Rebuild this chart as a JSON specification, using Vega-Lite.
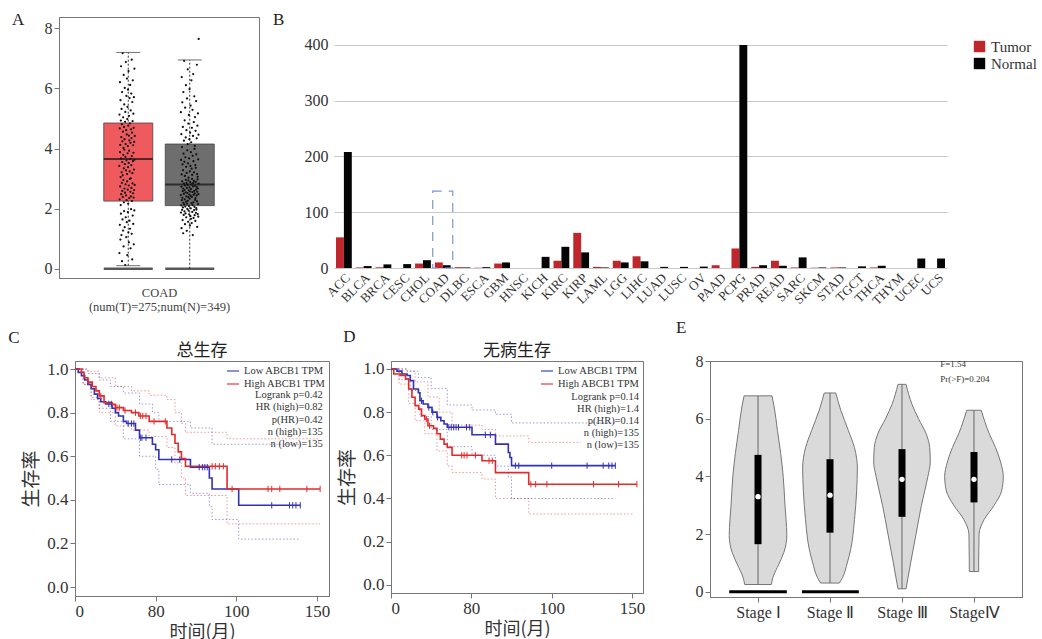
{
"$schema": "https://vega.github.io/schema/vega-lite/v6.json",
"padding": {"left": 8, "top": 10, "right": 0, "bottom": 0},
"background": "white",
"config": {
 "font": "Liberation Serif",
 "view": {"stroke": "#777"},
 "axis": {"labelFont": "Liberation Serif", "titleFont": "Liberation Serif", "titleFontWeight": "normal", "labelColor": "#333", "titleColor": "#333", "domainColor": "#777", "tickColor": "#777", "grid": false, "labelFontSize": 15},
 "legend": {"labelFont": "Liberation Serif", "labelColor": "#333"},
 "title": {"font": "Liberation Serif", "fontWeight": "normal", "color": "#222"},
 "text": {"font": "Liberation Serif"}
},
"datasets": {
 "boxA": [
  {"g": "Tumor", "lo": 0.1, "q1": 2.25, "med": 3.65, "q3": 4.85, "hi": 7.2},
  {"g": "Normal", "lo": 0, "q1": 2.1, "med": 2.8, "q3": 4.15, "hi": 6.95}
 ],
 "capsA": [
  {"g": "Tumor", "v": 7.2}, {"g": "Tumor", "v": 0.1}, {"g": "Normal", "v": 6.95}
 ],
 "ptsA": [
  {"g":"Tumor","v":3.42},{"g":"Tumor","v":0.52},{"g":"Tumor","v":5.13},{"g":"Tumor","v":2.31},{"g":"Tumor","v":4.67},{"g":"Tumor","v":1.46},{"g":"Tumor","v":6.21},{"g":"Tumor","v":3.88},{"g":"Tumor","v":2.74},{"g":"Tumor","v":4.12},
  {"g":"Tumor","v":0.97},{"g":"Tumor","v":5.61},{"g":"Tumor","v":3.05},{"g":"Tumor","v":2.12},{"g":"Tumor","v":4.93},{"g":"Tumor","v":1.83},{"g":"Tumor","v":6.74},{"g":"Tumor","v":3.67},{"g":"Tumor","v":2.48},{"g":"Tumor","v":4.38},
  {"g":"Tumor","v":1.12},{"g":"Tumor","v":5.32},{"g":"Tumor","v":3.21},{"g":"Tumor","v":2.86},{"g":"Tumor","v":4.81},{"g":"Tumor","v":0.25},{"g":"Tumor","v":5.88},{"g":"Tumor","v":3.55},{"g":"Tumor","v":2.59},{"g":"Tumor","v":4.24},
  {"g":"Tumor","v":1.64},{"g":"Tumor","v":7.18},{"g":"Tumor","v":3.11},{"g":"Tumor","v":2.39},{"g":"Tumor","v":4.56},{"g":"Tumor","v":1.27},{"g":"Tumor","v":5.04},{"g":"Tumor","v":3.79},{"g":"Tumor","v":2.95},{"g":"Tumor","v":4.02},
  {"g":"Tumor","v":0.74},{"g":"Tumor","v":6.45},{"g":"Tumor","v":3.34},{"g":"Tumor","v":2.21},{"g":"Tumor","v":4.72},{"g":"Tumor","v":1.92},{"g":"Tumor","v":5.47},{"g":"Tumor","v":3.96},{"g":"Tumor","v":2.67},{"g":"Tumor","v":4.31},
  {"g":"Tumor","v":1.38},{"g":"Tumor","v":6.02},{"g":"Tumor","v":3.48},{"g":"Tumor","v":2.53},{"g":"Tumor","v":4.89},{"g":"Tumor","v":0.12},{"g":"Tumor","v":5.22},{"g":"Tumor","v":3.72},{"g":"Tumor","v":2.81},{"g":"Tumor","v":4.15},
  {"g":"Tumor","v":1.71},{"g":"Tumor","v":6.88},{"g":"Tumor","v":3.27},{"g":"Tumor","v":2.44},{"g":"Tumor","v":4.61},{"g":"Tumor","v":1.05},{"g":"Tumor","v":5.75},{"g":"Tumor","v":3.61},{"g":"Tumor","v":2.28},{"g":"Tumor","v":4.47},
  {"g":"Tumor","v":1.55},{"g":"Tumor","v":6.33},{"g":"Tumor","v":3.15},{"g":"Tumor","v":2.91},{"g":"Tumor","v":4.98},{"g":"Tumor","v":0.45},{"g":"Tumor","v":5.39},{"g":"Tumor","v":3.84},{"g":"Tumor","v":2.63},{"g":"Tumor","v":4.08},
  {"g":"Tumor","v":1.88},{"g":"Tumor","v":5.96},{"g":"Tumor","v":3.38},{"g":"Tumor","v":2.17},{"g":"Tumor","v":4.76},{"g":"Tumor","v":1.21},{"g":"Tumor","v":6.58},{"g":"Tumor","v":3.52},{"g":"Tumor","v":2.77},{"g":"Tumor","v":4.43},
  {"g":"Tumor","v":0.88},{"g":"Tumor","v":5.09},{"g":"Tumor","v":3.93},{"g":"Tumor","v":2.35},{"g":"Tumor","v":4.27},{"g":"Tumor","v":1.6},{"g":"Tumor","v":5.68},{"g":"Tumor","v":3.24},{"g":"Tumor","v":2.99},{"g":"Tumor","v":4.84},
  {"g":"Tumor","v":1.33},{"g":"Tumor","v":6.12},{"g":"Tumor","v":3.66},{"g":"Tumor","v":2.56},{"g":"Tumor","v":4.19},{"g":"Tumor","v":0.68},{"g":"Tumor","v":5.27},{"g":"Tumor","v":3.01},{"g":"Tumor","v":2.41},{"g":"Tumor","v":4.64},
  {"g":"Tumor","v":1.98},{"g":"Tumor","v":5.83},{"g":"Tumor","v":3.45},{"g":"Tumor","v":2.69},{"g":"Tumor","v":4.35},{"g":"Tumor","v":1.16},{"g":"Tumor","v":6.96},{"g":"Tumor","v":3.75},{"g":"Tumor","v":2.25},{"g":"Tumor","v":4.53},
  {"g":"Tumor","v":0.31},{"g":"Tumor","v":5.55},{"g":"Tumor","v":3.18},{"g":"Tumor","v":2.84},{"g":"Tumor","v":4.91},{"g":"Tumor","v":1.77},{"g":"Tumor","v":6.27},{"g":"Tumor","v":3.58},{"g":"Tumor","v":2.51},{"g":"Tumor","v":4.11},
  {"g":"Tumor","v":1.49},{"g":"Tumor","v":5.16},{"g":"Tumor","v":3.86},{"g":"Tumor","v":2.37},{"g":"Tumor","v":4.69},{"g":"Tumor","v":0.81},{"g":"Tumor","v":5.71},{"g":"Tumor","v":3.3},{"g":"Tumor","v":2.62},{"g":"Tumor","v":4.22},
  {"g":"Tumor","v":1.94},{"g":"Tumor","v":6.66},{"g":"Tumor","v":3.63},{"g":"Tumor","v":2.79},{"g":"Tumor","v":4.42},
  {"g":"Normal","v":2.45},{"g":"Normal","v":5.21},{"g":"Normal","v":1.87},{"g":"Normal","v":3.62},{"g":"Normal","v":2.11},{"g":"Normal","v":4.48},{"g":"Normal","v":2.73},{"g":"Normal","v":1.35},{"g":"Normal","v":3.14},{"g":"Normal","v":6.38},
  {"g":"Normal","v":2.28},{"g":"Normal","v":4.05},{"g":"Normal","v":1.96},{"g":"Normal","v":2.91},{"g":"Normal","v":5.54},{"g":"Normal","v":2.36},{"g":"Normal","v":3.47},{"g":"Normal","v":1.62},{"g":"Normal","v":2.58},{"g":"Normal","v":4.72},
  {"g":"Normal","v":2.04},{"g":"Normal","v":3.28},{"g":"Normal","v":1.18},{"g":"Normal","v":2.67},{"g":"Normal","v":5.88},{"g":"Normal","v":2.19},{"g":"Normal","v":3.83},{"g":"Normal","v":1.79},{"g":"Normal","v":2.49},{"g":"Normal","v":4.26},
  {"g":"Normal","v":2.83},{"g":"Normal","v":6.92},{"g":"Normal","v":2.14},{"g":"Normal","v":3.56},{"g":"Normal","v":1.91},{"g":"Normal","v":2.62},{"g":"Normal","v":4.94},{"g":"Normal","v":2.31},{"g":"Normal","v":3.09},{"g":"Normal","v":1.48},
  {"g":"Normal","v":2.77},{"g":"Normal","v":5.36},{"g":"Normal","v":2.07},{"g":"Normal","v":3.71},{"g":"Normal","v":1.84},{"g":"Normal","v":2.54},{"g":"Normal","v":4.37},{"g":"Normal","v":2.96},{"g":"Normal","v":6.11},{"g":"Normal","v":2.23},
  {"g":"Normal","v":3.39},{"g":"Normal","v":1.71},{"g":"Normal","v":2.41},{"g":"Normal","v":4.61},{"g":"Normal","v":2.86},{"g":"Normal","v":3.19},{"g":"Normal","v":1.26},{"g":"Normal","v":2.69},{"g":"Normal","v":5.67},{"g":"Normal","v":2.16},
  {"g":"Normal","v":3.94},{"g":"Normal","v":1.99},{"g":"Normal","v":2.52},{"g":"Normal","v":4.15},{"g":"Normal","v":2.79},{"g":"Normal","v":6.64},{"g":"Normal","v":2.26},{"g":"Normal","v":3.51},{"g":"Normal","v":1.56},{"g":"Normal","v":2.38},
  {"g":"Normal","v":4.83},{"g":"Normal","v":2.94},{"g":"Normal","v":3.03},{"g":"Normal","v":1.93},{"g":"Normal","v":2.61},{"g":"Normal","v":5.12},{"g":"Normal","v":2.09},{"g":"Normal","v":3.67},{"g":"Normal","v":1.81},{"g":"Normal","v":2.47},
  {"g":"Normal","v":4.31},{"g":"Normal","v":2.71},{"g":"Normal","v":5.98},{"g":"Normal","v":2.33},{"g":"Normal","v":3.24},{"g":"Normal","v":1.44},{"g":"Normal","v":2.57},{"g":"Normal","v":4.53},{"g":"Normal","v":2.88},{"g":"Normal","v":3.42},
  {"g":"Normal","v":1.75},{"g":"Normal","v":2.43},{"g":"Normal","v":5.43},{"g":"Normal","v":2.01},{"g":"Normal","v":3.88},{"g":"Normal","v":1.66},{"g":"Normal","v":2.65},{"g":"Normal","v":4.21},{"g":"Normal","v":2.81},{"g":"Normal","v":6.27},
  {"g":"Normal","v":2.18},{"g":"Normal","v":3.33},{"g":"Normal","v":1.52},{"g":"Normal","v":2.39},{"g":"Normal","v":4.69},{"g":"Normal","v":2.99},{"g":"Normal","v":3.12},{"g":"Normal","v":1.89},{"g":"Normal","v":2.55},{"g":"Normal","v":5.29},
  {"g":"Normal","v":2.12},{"g":"Normal","v":3.76},{"g":"Normal","v":1.12},{"g":"Normal","v":2.74},{"g":"Normal","v":4.42},{"g":"Normal","v":2.85},{"g":"Normal","v":6.48},{"g":"Normal","v":2.21},{"g":"Normal","v":3.58},{"g":"Normal","v":1.69},
  {"g":"Normal","v":2.46},{"g":"Normal","v":4.88},{"g":"Normal","v":2.92},{"g":"Normal","v":3.21},{"g":"Normal","v":1.95},{"g":"Normal","v":2.59},{"g":"Normal","v":5.74},{"g":"Normal","v":2.06},{"g":"Normal","v":3.99},{"g":"Normal","v":1.78},
  {"g":"Normal","v":2.51},{"g":"Normal","v":4.09},{"g":"Normal","v":2.76},{"g":"Normal","v":5.05},{"g":"Normal","v":2.29},{"g":"Normal","v":3.45},{"g":"Normal","v":1.59},{"g":"Normal","v":2.35},{"g":"Normal","v":4.59},{"g":"Normal","v":2.89},
  {"g":"Normal","v":3.36},{"g":"Normal","v":1.86},{"g":"Normal","v":2.63},{"g":"Normal","v":5.58},{"g":"Normal","v":2.02},{"g":"Normal","v":3.81},{"g":"Normal","v":1.97},{"g":"Normal","v":2.44},{"g":"Normal","v":4.34},{"g":"Normal","v":2.72},
  {"g":"Normal","v":6.79},{"g":"Normal","v":2.24},{"g":"Normal","v":3.15},{"g":"Normal","v":1.39},{"g":"Normal","v":2.56},{"g":"Normal","v":4.76},{"g":"Normal","v":2.97},{"g":"Normal","v":3.06},{"g":"Normal","v":1.82},{"g":"Normal","v":2.67},
  {"g":"Normal","v":5.17},{"g":"Normal","v":2.15},{"g":"Normal","v":3.64},{"g":"Normal","v":1.73},{"g":"Normal","v":2.48},{"g":"Normal","v":4.46},{"g":"Normal","v":2.83},{"g":"Normal","v":7.65}
 ],
 "bars": [
  {"c":"ACC","type":"Tumor","v":55},{"c":"ACC","type":"Normal","v":208},
  {"c":"BLCA","type":"Tumor","v":1},{"c":"BLCA","type":"Normal","v":3.5},
  {"c":"BRCA","type":"Tumor","v":1.5},{"c":"BRCA","type":"Normal","v":6.5},
  {"c":"CESC","type":"Tumor","v":0},{"c":"CESC","type":"Normal","v":7},
  {"c":"CHOL","type":"Tumor","v":8},{"c":"CHOL","type":"Normal","v":14},
  {"c":"COAD","type":"Tumor","v":10},{"c":"COAD","type":"Normal","v":5},
  {"c":"DLBC","type":"Tumor","v":1.5},{"c":"DLBC","type":"Normal","v":1},
  {"c":"ESCA","type":"Tumor","v":0.5},{"c":"ESCA","type":"Normal","v":1.5},
  {"c":"GBM","type":"Tumor","v":8},{"c":"GBM","type":"Normal","v":10},
  {"c":"HNSC","type":"Tumor","v":0},{"c":"HNSC","type":"Normal","v":0},
  {"c":"KICH","type":"Tumor","v":0},{"c":"KICH","type":"Normal","v":20},
  {"c":"KIRC","type":"Tumor","v":13},{"c":"KIRC","type":"Normal","v":38},
  {"c":"KIRP","type":"Tumor","v":63},{"c":"KIRP","type":"Normal","v":28},
  {"c":"LAML","type":"Tumor","v":2},{"c":"LAML","type":"Normal","v":1},
  {"c":"LGG","type":"Tumor","v":13},{"c":"LGG","type":"Normal","v":10},
  {"c":"LIHC","type":"Tumor","v":21},{"c":"LIHC","type":"Normal","v":12},
  {"c":"LUAD","type":"Tumor","v":0},{"c":"LUAD","type":"Normal","v":2},
  {"c":"LUSC","type":"Tumor","v":0},{"c":"LUSC","type":"Normal","v":2},
  {"c":"OV","type":"Tumor","v":0},{"c":"OV","type":"Normal","v":2.5},
  {"c":"PAAD","type":"Tumor","v":5},{"c":"PAAD","type":"Normal","v":0},
  {"c":"PCPG","type":"Tumor","v":35},{"c":"PCPG","type":"Normal","v":400},
  {"c":"PRAD","type":"Tumor","v":2},{"c":"PRAD","type":"Normal","v":5},
  {"c":"READ","type":"Tumor","v":13},{"c":"READ","type":"Normal","v":4},
  {"c":"SARC","type":"Tumor","v":1},{"c":"SARC","type":"Normal","v":19},
  {"c":"SKCM","type":"Tumor","v":0.5},{"c":"SKCM","type":"Normal","v":1},
  {"c":"STAD","type":"Tumor","v":1},{"c":"STAD","type":"Normal","v":1},
  {"c":"TGCT","type":"Tumor","v":0},{"c":"TGCT","type":"Normal","v":3},
  {"c":"THCA","type":"Tumor","v":1},{"c":"THCA","type":"Normal","v":4},
  {"c":"THYM","type":"Tumor","v":0},{"c":"THYM","type":"Normal","v":0},
  {"c":"UCEC","type":"Tumor","v":0},{"c":"UCEC","type":"Normal","v":17},
  {"c":"UCS","type":"Tumor","v":0},{"c":"UCS","type":"Normal","v":17}
 ],
 "hiB": [{"c": "COAD", "lo": 0, "hi": 138}],
 "km": [
  {"p":"C","g":"L","k":"e","t":0,"s":1},{"p":"C","g":"L","k":"e","t":2,"s":0.985},{"p":"C","g":"L","k":"e","t":4,"s":0.97},{"p":"C","g":"L","k":"e","t":6,"s":0.95},{"p":"C","g":"L","k":"e","t":8,"s":0.93},{"p":"C","g":"L","k":"e","t":10,"s":0.91},{"p":"C","g":"L","k":"e","t":12,"s":0.885},{"p":"C","g":"L","k":"e","t":14,"s":0.865},{"p":"C","g":"L","k":"e","t":16,"s":0.85},{"p":"C","g":"L","k":"e","t":19,"s":0.84},{"p":"C","g":"L","k":"e","t":23,"s":0.82},{"p":"C","g":"L","k":"e","t":25,"s":0.8},{"p":"C","g":"L","k":"e","t":27,"s":0.785},{"p":"C","g":"L","k":"e","t":30,"s":0.76},{"p":"C","g":"L","k":"e","t":32,"s":0.75},{"p":"C","g":"L","k":"e","t":37.5,"s":0.72},{"p":"C","g":"L","k":"e","t":40,"s":0.685},{"p":"C","g":"L","k":"e","t":48,"s":0.655},{"p":"C","g":"L","k":"e","t":50,"s":0.63},{"p":"C","g":"L","k":"e","t":52,"s":0.585},{"p":"C","g":"L","k":"e","t":71.6,"s":0.55},{"p":"C","g":"L","k":"e","t":83.3,"s":0.5},{"p":"C","g":"L","k":"e","t":85,"s":0.45},{"p":"C","g":"L","k":"e","t":101.5,"s":0.375},{"p":"C","g":"L","k":"e","t":139.7,"s":0.375},
  {"p":"C","g":"H","k":"e","t":0,"s":1},{"p":"C","g":"H","k":"e","t":4,"s":0.985},{"p":"C","g":"H","k":"e","t":5.6,"s":0.96},{"p":"C","g":"H","k":"e","t":8,"s":0.94},{"p":"C","g":"H","k":"e","t":10.7,"s":0.92},{"p":"C","g":"H","k":"e","t":13,"s":0.9},{"p":"C","g":"H","k":"e","t":15,"s":0.877},{"p":"C","g":"H","k":"e","t":18,"s":0.846},{"p":"C","g":"H","k":"e","t":23,"s":0.838},{"p":"C","g":"H","k":"e","t":25,"s":0.823},{"p":"C","g":"H","k":"e","t":30,"s":0.81},{"p":"C","g":"H","k":"e","t":35,"s":0.8},{"p":"C","g":"H","k":"e","t":39.6,"s":0.785},{"p":"C","g":"H","k":"e","t":46,"s":0.76},{"p":"C","g":"H","k":"e","t":57,"s":0.73},{"p":"C","g":"H","k":"e","t":60,"s":0.7},{"p":"C","g":"H","k":"e","t":62,"s":0.66},{"p":"C","g":"H","k":"e","t":64,"s":0.62},{"p":"C","g":"H","k":"e","t":66,"s":0.59},{"p":"C","g":"H","k":"e","t":68.5,"s":0.554},{"p":"C","g":"H","k":"e","t":94.3,"s":0.45},{"p":"C","g":"H","k":"e","t":152,"s":0.45},
  {"p":"C","g":"L","k":"u","t":0,"s":1},{"p":"C","g":"L","k":"u","t":8,"s":0.98},{"p":"C","g":"L","k":"u","t":15,"s":0.95},{"p":"C","g":"L","k":"u","t":22,"s":0.92},{"p":"C","g":"L","k":"u","t":30,"s":0.89},{"p":"C","g":"L","k":"u","t":40,"s":0.84},{"p":"C","g":"L","k":"u","t":48,"s":0.8},{"p":"C","g":"L","k":"u","t":52,"s":0.76},{"p":"C","g":"L","k":"u","t":71.6,"s":0.73},{"p":"C","g":"L","k":"u","t":85,"s":0.655},{"p":"C","g":"L","k":"u","t":139.7,"s":0.655},
  {"p":"C","g":"L","k":"l","t":0,"s":1},{"p":"C","g":"L","k":"l","t":5,"s":0.93},{"p":"C","g":"L","k":"l","t":10,"s":0.87},{"p":"C","g":"L","k":"l","t":15,"s":0.82},{"p":"C","g":"L","k":"l","t":22,"s":0.76},{"p":"C","g":"L","k":"l","t":30,"s":0.68},{"p":"C","g":"L","k":"l","t":40,"s":0.6},{"p":"C","g":"L","k":"l","t":50,"s":0.54},{"p":"C","g":"L","k":"l","t":52,"s":0.47},{"p":"C","g":"L","k":"l","t":71.6,"s":0.43},{"p":"C","g":"L","k":"l","t":83.3,"s":0.37},{"p":"C","g":"L","k":"l","t":85,"s":0.31},{"p":"C","g":"L","k":"l","t":101.5,"s":0.22},{"p":"C","g":"L","k":"l","t":139.7,"s":0.22},
  {"p":"C","g":"H","k":"u","t":0,"s":1},{"p":"C","g":"H","k":"u","t":8,"s":0.99},{"p":"C","g":"H","k":"u","t":15,"s":0.96},{"p":"C","g":"H","k":"u","t":25,"s":0.92},{"p":"C","g":"H","k":"u","t":35,"s":0.9},{"p":"C","g":"H","k":"u","t":46,"s":0.88},{"p":"C","g":"H","k":"u","t":57,"s":0.86},{"p":"C","g":"H","k":"u","t":62,"s":0.8},{"p":"C","g":"H","k":"u","t":66,"s":0.75},{"p":"C","g":"H","k":"u","t":68.5,"s":0.71},{"p":"C","g":"H","k":"u","t":94.3,"s":0.68},{"p":"C","g":"H","k":"u","t":152,"s":0.68},
  {"p":"C","g":"H","k":"l","t":0,"s":1},{"p":"C","g":"H","k":"l","t":5,"s":0.93},{"p":"C","g":"H","k":"l","t":10,"s":0.86},{"p":"C","g":"H","k":"l","t":15,"s":0.8},{"p":"C","g":"H","k":"l","t":25,"s":0.74},{"p":"C","g":"H","k":"l","t":35,"s":0.72},{"p":"C","g":"H","k":"l","t":46,"s":0.69},{"p":"C","g":"H","k":"l","t":57,"s":0.64},{"p":"C","g":"H","k":"l","t":62,"s":0.57},{"p":"C","g":"H","k":"l","t":66,"s":0.5},{"p":"C","g":"H","k":"l","t":68.5,"s":0.42},{"p":"C","g":"H","k":"l","t":94.3,"s":0.29},{"p":"C","g":"H","k":"l","t":152,"s":0.29},
  {"p":"D","g":"L","k":"e","t":0,"s":1},{"p":"D","g":"L","k":"e","t":3.7,"s":0.99},{"p":"D","g":"L","k":"e","t":6.8,"s":0.977},{"p":"D","g":"L","k":"e","t":10,"s":0.97},{"p":"D","g":"L","k":"e","t":12,"s":0.946},{"p":"D","g":"L","k":"e","t":14,"s":0.907},{"p":"D","g":"L","k":"e","t":17,"s":0.89},{"p":"D","g":"L","k":"e","t":18,"s":0.853},{"p":"D","g":"L","k":"e","t":20,"s":0.838},{"p":"D","g":"L","k":"e","t":23,"s":0.822},{"p":"D","g":"L","k":"e","t":25.5,"s":0.8},{"p":"D","g":"L","k":"e","t":28.6,"s":0.776},{"p":"D","g":"L","k":"e","t":31,"s":0.76},{"p":"D","g":"L","k":"e","t":33,"s":0.745},{"p":"D","g":"L","k":"e","t":35,"s":0.73},{"p":"D","g":"L","k":"e","t":50.4,"s":0.695},{"p":"D","g":"L","k":"e","t":65,"s":0.652},{"p":"D","g":"L","k":"e","t":73,"s":0.613},{"p":"D","g":"L","k":"e","t":74,"s":0.59},{"p":"D","g":"L","k":"e","t":75,"s":0.552},{"p":"D","g":"L","k":"e","t":139.6,"s":0.552},
  {"p":"D","g":"H","k":"e","t":0,"s":1},{"p":"D","g":"H","k":"e","t":1.7,"s":0.977},{"p":"D","g":"H","k":"e","t":5.8,"s":0.97},{"p":"D","g":"H","k":"e","t":9,"s":0.954},{"p":"D","g":"H","k":"e","t":11,"s":0.907},{"p":"D","g":"H","k":"e","t":13,"s":0.869},{"p":"D","g":"H","k":"e","t":15,"s":0.83},{"p":"D","g":"H","k":"e","t":17.2,"s":0.814},{"p":"D","g":"H","k":"e","t":19,"s":0.784},{"p":"D","g":"H","k":"e","t":21,"s":0.768},{"p":"D","g":"H","k":"e","t":23,"s":0.737},{"p":"D","g":"H","k":"e","t":26.5,"s":0.725},{"p":"D","g":"H","k":"e","t":28.6,"s":0.7},{"p":"D","g":"H","k":"e","t":30.7,"s":0.675},{"p":"D","g":"H","k":"e","t":33,"s":0.652},{"p":"D","g":"H","k":"e","t":35,"s":0.637},{"p":"D","g":"H","k":"e","t":38,"s":0.6},{"p":"D","g":"H","k":"e","t":56.6,"s":0.575},{"p":"D","g":"H","k":"e","t":65,"s":0.52},{"p":"D","g":"H","k":"e","t":85.7,"s":0.466},{"p":"D","g":"H","k":"e","t":153,"s":0.466},
  {"p":"D","g":"L","k":"u","t":0,"s":1},{"p":"D","g":"L","k":"u","t":10,"s":0.99},{"p":"D","g":"L","k":"u","t":17,"s":0.96},{"p":"D","g":"L","k":"u","t":25,"s":0.91},{"p":"D","g":"L","k":"u","t":35,"s":0.833},{"p":"D","g":"L","k":"u","t":50.4,"s":0.81},{"p":"D","g":"L","k":"u","t":65,"s":0.79},{"p":"D","g":"L","k":"u","t":75,"s":0.75},{"p":"D","g":"L","k":"u","t":139.6,"s":0.75},
  {"p":"D","g":"L","k":"l","t":0,"s":1},{"p":"D","g":"L","k":"l","t":5,"s":0.95},{"p":"D","g":"L","k":"l","t":12,"s":0.9},{"p":"D","g":"L","k":"l","t":18,"s":0.78},{"p":"D","g":"L","k":"l","t":25,"s":0.72},{"p":"D","g":"L","k":"l","t":35,"s":0.64},{"p":"D","g":"L","k":"l","t":50.4,"s":0.6},{"p":"D","g":"L","k":"l","t":65,"s":0.55},{"p":"D","g":"L","k":"l","t":73,"s":0.5},{"p":"D","g":"L","k":"l","t":75,"s":0.4},{"p":"D","g":"L","k":"l","t":139.6,"s":0.4},
  {"p":"D","g":"H","k":"u","t":0,"s":1},{"p":"D","g":"H","k":"u","t":10,"s":0.99},{"p":"D","g":"H","k":"u","t":15,"s":0.94},{"p":"D","g":"H","k":"u","t":23,"s":0.87},{"p":"D","g":"H","k":"u","t":30,"s":0.8},{"p":"D","g":"H","k":"u","t":38,"s":0.74},{"p":"D","g":"H","k":"u","t":56.6,"s":0.72},{"p":"D","g":"H","k":"u","t":65,"s":0.69},{"p":"D","g":"H","k":"u","t":85.7,"s":0.66},{"p":"D","g":"H","k":"u","t":118,"s":0.66},
  {"p":"D","g":"H","k":"l","t":0,"s":1},{"p":"D","g":"H","k":"l","t":5,"s":0.93},{"p":"D","g":"H","k":"l","t":11,"s":0.84},{"p":"D","g":"H","k":"l","t":15,"s":0.76},{"p":"D","g":"H","k":"l","t":21,"s":0.7},{"p":"D","g":"H","k":"l","t":28.6,"s":0.62},{"p":"D","g":"H","k":"l","t":35,"s":0.55},{"p":"D","g":"H","k":"l","t":38,"s":0.52},{"p":"D","g":"H","k":"l","t":56.6,"s":0.49},{"p":"D","g":"H","k":"l","t":65,"s":0.4},{"p":"D","g":"H","k":"l","t":85.7,"s":0.328},{"p":"D","g":"H","k":"l","t":151,"s":0.328}
 ],
 "cens": [
  {"p":"C","g":"L","t":21,"s":0.84},{"p":"C","g":"L","t":22.5,"s":0.84},{"p":"C","g":"L","t":33,"s":0.75},{"p":"C","g":"L","t":35,"s":0.75},{"p":"C","g":"L","t":36.5,"s":0.75},{"p":"C","g":"L","t":40.5,"s":0.685},{"p":"C","g":"L","t":41.5,"s":0.685},{"p":"C","g":"L","t":44,"s":0.685},{"p":"C","g":"L","t":60,"s":0.585},{"p":"C","g":"L","t":65,"s":0.585},{"p":"C","g":"L","t":77,"s":0.55},{"p":"C","g":"L","t":79,"s":0.55},{"p":"C","g":"L","t":80.5,"s":0.55},{"p":"C","g":"L","t":82,"s":0.55},{"p":"C","g":"L","t":122,"s":0.375},{"p":"C","g":"L","t":133,"s":0.375},{"p":"C","g":"L","t":135,"s":0.375},{"p":"C","g":"L","t":137,"s":0.375},{"p":"C","g":"L","t":139.7,"s":0.375},
  {"p":"C","g":"H","t":16,"s":0.877},{"p":"C","g":"H","t":26,"s":0.823},{"p":"C","g":"H","t":27.5,"s":0.823},{"p":"C","g":"H","t":31,"s":0.81},{"p":"C","g":"H","t":37.5,"s":0.8},{"p":"C","g":"H","t":40.5,"s":0.785},{"p":"C","g":"H","t":42,"s":0.785},{"p":"C","g":"H","t":44,"s":0.785},{"p":"C","g":"H","t":49,"s":0.76},{"p":"C","g":"H","t":56,"s":0.76},{"p":"C","g":"H","t":85,"s":0.554},{"p":"C","g":"H","t":87,"s":0.554},{"p":"C","g":"H","t":89.5,"s":0.554},{"p":"C","g":"H","t":92,"s":0.554},{"p":"C","g":"H","t":97.4,"s":0.45},{"p":"C","g":"H","t":119.7,"s":0.45},{"p":"C","g":"H","t":122,"s":0.45},{"p":"C","g":"H","t":127,"s":0.45},{"p":"C","g":"H","t":143.8,"s":0.45},{"p":"C","g":"H","t":152,"s":0.45},
  {"p":"D","g":"L","t":19,"s":0.853},{"p":"D","g":"L","t":23.5,"s":0.822},{"p":"D","g":"L","t":26,"s":0.8},{"p":"D","g":"L","t":29,"s":0.776},{"p":"D","g":"L","t":36,"s":0.73},{"p":"D","g":"L","t":37.5,"s":0.73},{"p":"D","g":"L","t":39,"s":0.73},{"p":"D","g":"L","t":40.5,"s":0.73},{"p":"D","g":"L","t":42,"s":0.73},{"p":"D","g":"L","t":47,"s":0.73},{"p":"D","g":"L","t":49,"s":0.73},{"p":"D","g":"L","t":58.7,"s":0.695},{"p":"D","g":"L","t":61.8,"s":0.695},{"p":"D","g":"L","t":77.4,"s":0.552},{"p":"D","g":"L","t":79.5,"s":0.552},{"p":"D","g":"L","t":100,"s":0.552},{"p":"D","g":"L","t":122,"s":0.552},{"p":"D","g":"L","t":132,"s":0.552},{"p":"D","g":"L","t":135.5,"s":0.552},{"p":"D","g":"L","t":137.5,"s":0.552},{"p":"D","g":"L","t":139.6,"s":0.552},
  {"p":"D","g":"H","t":22,"s":0.768},{"p":"D","g":"H","t":24,"s":0.737},{"p":"D","g":"H","t":44,"s":0.6},{"p":"D","g":"H","t":45.5,"s":0.6},{"p":"D","g":"H","t":47.3,"s":0.6},{"p":"D","g":"H","t":52.5,"s":0.6},{"p":"D","g":"H","t":61,"s":0.575},{"p":"D","g":"H","t":63,"s":0.575},{"p":"D","g":"H","t":87,"s":0.466},{"p":"D","g":"H","t":90,"s":0.466},{"p":"D","g":"H","t":97,"s":0.466},{"p":"D","g":"H","t":126,"s":0.466},{"p":"D","g":"H","t":141.6,"s":0.466},{"p":"D","g":"H","t":153,"s":0.466}
 ],
 "stats": [
  {"p":"C","t":153.7,"s":0.882,"label":"Logrank p=0.42"},{"p":"C","t":153.7,"s":0.825,"label":"HR (high)=0.82"},{"p":"C","t":153.7,"s":0.768,"label":"p(HR)=0.42"},{"p":"C","t":153.7,"s":0.711,"label":"n (high)=135"},{"p":"C","t":153.7,"s":0.654,"label":"n (low)=135"},
  {"p":"D","t":154.3,"s":0.87,"label":"Logrank p=0.14"},{"p":"D","t":154.3,"s":0.815,"label":"HR (high)=1.4"},{"p":"D","t":154.3,"s":0.759,"label":"p(HR)=0.14"},{"p":"D","t":154.3,"s":0.704,"label":"n (high)=135"},{"p":"D","t":154.3,"s":0.648,"label":"n (low)=135"}
 ],
 "vio": [
  {"st":1,"y":0.25,"lo":0.815,"hi":1.185},{"st":1,"y":0.5,"lo":0.792,"hi":1.208},{"st":1,"y":0.96,"lo":0.71,"hi":1.29},{"st":1,"y":1.37,"lo":0.64,"hi":1.36},{"st":1,"y":1.95,"lo":0.6,"hi":1.4},{"st":1,"y":2.5,"lo":0.61,"hi":1.39},{"st":1,"y":3,"lo":0.625,"hi":1.375},{"st":1,"y":4,"lo":0.65,"hi":1.35},{"st":1,"y":4.8,"lo":0.685,"hi":1.315},{"st":1,"y":5.6,"lo":0.73,"hi":1.27},{"st":1,"y":6.45,"lo":0.778,"hi":1.222},{"st":1,"y":6.8,"lo":0.806,"hi":1.194},
  {"st":2,"y":0.3,"lo":1.87,"hi":2.13},{"st":2,"y":0.5,"lo":1.824,"hi":2.176},{"st":2,"y":1,"lo":1.76,"hi":2.24},{"st":2,"y":1.5,"lo":1.71,"hi":2.29},{"st":2,"y":2.5,"lo":1.66,"hi":2.34},{"st":2,"y":3.5,"lo":1.63,"hi":2.37},{"st":2,"y":4.3,"lo":1.62,"hi":2.38},{"st":2,"y":5,"lo":1.66,"hi":2.34},{"st":2,"y":5.6,"lo":1.745,"hi":2.255},{"st":2,"y":6.3,"lo":1.85,"hi":2.15},{"st":2,"y":6.9,"lo":1.92,"hi":2.08},
  {"st":3,"y":0.1,"lo":2.944,"hi":3.056},{"st":3,"y":1,"lo":2.88,"hi":3.12},{"st":3,"y":2,"lo":2.805,"hi":3.195},{"st":3,"y":3,"lo":2.73,"hi":3.27},{"st":3,"y":4,"lo":2.64,"hi":3.36},{"st":3,"y":4.5,"lo":2.607,"hi":3.393},{"st":3,"y":5,"lo":2.615,"hi":3.385},{"st":3,"y":5.5,"lo":2.667,"hi":3.333},{"st":3,"y":6,"lo":2.77,"hi":3.23},{"st":3,"y":6.5,"lo":2.86,"hi":3.14},{"st":3,"y":7.2,"lo":2.944,"hi":3.056},
  {"st":4,"y":0.7,"lo":3.935,"hi":4.065},{"st":4,"y":1,"lo":3.935,"hi":4.065},{"st":4,"y":2,"lo":3.93,"hi":4.07},{"st":4,"y":2.5,"lo":3.86,"hi":4.14},{"st":4,"y":3,"lo":3.72,"hi":4.28},{"st":4,"y":3.5,"lo":3.616,"hi":4.384},{"st":4,"y":4,"lo":3.593,"hi":4.407},{"st":4,"y":4.5,"lo":3.63,"hi":4.37},{"st":4,"y":5,"lo":3.7,"hi":4.3},{"st":4,"y":5.5,"lo":3.79,"hi":4.21},{"st":4,"y":6.3,"lo":3.9,"hi":4.1}
 ],
 "boxE": [
  {"st":1,"mn":0.25,"q1":1.65,"med":3.3,"q3":4.75,"mx":6.8},
  {"st":2,"mn":0.3,"q1":2.05,"med":3.35,"q3":4.6,"mx":6.9},
  {"st":3,"mn":0.1,"q1":2.6,"med":3.9,"q3":4.95,"mx":7.2},
  {"st":4,"mn":0.7,"q1":3.1,"med":3.9,"q3":4.85,"mx":6.3}
 ],
 "zeroE": [{"a":0.6,"b":1.4},{"a":1.61,"b":2.4}],
 "annE": [{"x":3.53,"y":7.9,"label":"F=1.54"},{"x":3.53,"y":7.4,"label":"Pr(>F)=0.204"}]
},
"resolve": {"scale": {"color": "independent", "fill": "independent", "xOffset": "independent"}, "legend": {"color": "independent", "fill": "independent"}},
"spacing": 4,
"vconcat": [
 {
  "bounds": "flush",
  "spacing": 75,
  "resolve": {"scale": {"color": "independent", "fill": "independent", "xOffset": "independent"}, "legend": {"color": "independent", "fill": "independent"}},
  "hconcat": [
   {
    "title": {"text": "A", "anchor": "start", "frame": "bounds", "fontSize": 17, "offset": -12, "dx": -32},
    "width": 200, "height": 261,
    "layer": [
     {"data": {"name": "boxA"}, "mark": {"type": "rule", "strokeDash": [2, 2], "color": "#333"},
      "encoding": {
       "x": {"field": "g", "type": "nominal", "sort": ["Tumor", "Normal"], "scale": {"paddingInner": 0.707, "paddingOuter": 0.98}, "axis": {"labels": false, "ticks": false, "title": ["COAD", "(num(T)=275;num(N)=349)"], "titleFontSize": 12.5, "titlePadding": 8, "titleColor": "#444"}},
       "y": {"field": "lo", "type": "quantitative", "scale": {"domain": [-0.31, 8.38], "nice": false, "zero": false}, "axis": {"values": [0, 2, 4, 6, 8], "title": null, "labelFontSize": 16}},
       "y2": {"field": "hi"}}},
     {"data": {"name": "boxA"}, "mark": {"type": "bar", "size": 49, "stroke": "#444", "strokeWidth": 0.8},
      "encoding": {
       "x": {"field": "g", "type": "nominal", "sort": ["Tumor", "Normal"]},
       "y": {"field": "q1", "type": "quantitative"}, "y2": {"field": "q3"},
       "fill": {"field": "g", "type": "nominal", "scale": {"domain": ["Tumor", "Normal"], "range": ["#ef5a5e", "#6e6e6e"]}, "legend": null}}},
     {"data": {"name": "ptsA"}, "transform": [{"window": [{"op": "row_number", "as": "r"}], "groupby": ["g"]}],
      "mark": {"type": "point", "filled": true, "size": 5, "color": "#111", "opacity": 1},
      "encoding": {
       "x": {"field": "g", "type": "nominal", "sort": ["Tumor", "Normal"]},
       "xOffset": {"field": "r", "type": "nominal"},
       "y": {"field": "v", "type": "quantitative"}}},
     {"data": {"name": "boxA"}, "mark": {"type": "tick", "size": 49, "thickness": 2, "color": "#111"},
      "encoding": {"x": {"field": "g", "type": "nominal", "sort": ["Tumor", "Normal"]}, "y": {"field": "med", "type": "quantitative"}}},
     {"data": {"name": "capsA"}, "mark": {"type": "tick", "size": 24, "thickness": 1, "color": "#333"},
      "encoding": {"x": {"field": "g", "type": "nominal", "sort": ["Tumor", "Normal"]}, "y": {"field": "v", "type": "quantitative"}}},
     {"data": {"name": "boxA"}, "mark": {"type": "tick", "size": 49, "thickness": 2.5, "color": "#111"},
      "encoding": {"x": {"field": "g", "type": "nominal", "sort": ["Tumor", "Normal"]}, "y": {"datum": 0}}}
    ]
   },
   {
    "title": {"text": "B", "anchor": "start", "frame": "bounds", "fontSize": 17, "offset": -12, "dx": -31},
    "width": 613, "height": 251, "view": {"stroke": null},
    "layer": [
     {"data": {"name": "bars"}, "mark": {"type": "bar"},
      "encoding": {
       "x": {"field": "c", "type": "nominal", "scale": {"paddingInner": 0.2, "paddingOuter": 0.1}, "axis": {"title": null, "labelAngle": -45, "ticks": false, "domain": false, "labelFontSize": 13, "labelPadding": 3}},
       "xOffset": {"field": "type", "type": "nominal", "sort": ["Tumor", "Normal"]},
       "y": {"field": "v", "type": "quantitative", "scale": {"domain": [0, 450], "nice": false}, "axis": {"values": [0, 100, 200, 300, 400], "grid": true, "gridColor": "#c8c8c8", "domain": false, "ticks": false, "title": null, "labelFontSize": 16, "labelPadding": 6}},
       "color": {"field": "type", "type": "nominal", "scale": {"domain": ["Tumor", "Normal"], "range": ["#c0272d", "#050505"]}, "legend": {"title": null, "orient": "none", "legendX": 638, "legendY": 22, "labelFontSize": 15, "symbolType": "square", "symbolSize": 130, "symbolStrokeWidth": 0, "rowPadding": 1}}}},
     {"data": {"name": "hiB"}, "mark": {"type": "bar", "size": 20, "fill": null, "fillOpacity": 0, "stroke": "#7d97d4", "strokeWidth": 1.2, "strokeDash": [9, 7]},
      "encoding": {"x": {"field": "c", "type": "nominal"}, "y": {"field": "lo", "type": "quantitative"}, "y2": {"field": "hi"}}}
    ]
   }
  ]
 },
 {
  "bounds": "flush",
  "spacing": 15,
  "resolve": {"scale": {"color": "independent"}, "legend": {"color": "independent"}},
  "hconcat": [
   {"width": 1, "height": 1, "view": {"stroke": null}, "data": {"values": [{}]}, "mark": {"type": "point", "opacity": 0}, "encoding": {}},
   {
    "spacing": 29,
    "resolve": {"scale": {"color": "independent"}, "legend": {"color": "independent"}},
    "hconcat": [
     {
      "spacing": 7,
      "resolve": {"scale": {"color": "independent"}, "legend": {"color": "independent"}},
      "hconcat": [
       {
        "title": {"text": "C", "anchor": "start", "frame": "bounds", "fontSize": 17, "offset": -5, "dx": -14},
        "resolve": {"scale": {"color": "independent"}, "legend": {"color": "independent"}},
        "vconcat": [{
         "title": {"text": "总生存", "fontSize": 17, "anchor": "middle", "offset": 0, "font": "Noto Sans CJK SC"},
         "width": 254, "height": 235,
         "encoding": {
          "x": {"field": "t", "type": "quantitative", "scale": {"domain": [0, 157.5], "nice": false, "zero": false}, "axis": {"values": [0, 50, 100, 150], "labelExpr": "datum.value==50?'80':datum.label", "title": "时间(月)", "titleFont": "Noto Sans CJK SC", "titleFontSize": 18, "labelFontSize": 17, "titlePadding": 4}},
          "y": {"field": "s", "type": "quantitative", "scale": {"domain": [-0.041, 1.037], "nice": false, "zero": false}, "axis": {"values": [0, 0.2, 0.4, 0.6, 0.8, 1], "format": ".1f", "title": "生存率", "titleFont": "Noto Sans CJK SC", "titleFontSize": 19, "labelFontSize": 17, "titlePadding": 5}}
         },
         "layer": [
          {"data": {"name": "km"}, "transform": [{"filter": "datum.p=='C' && datum.k=='e'"}], "mark": {"type": "line", "interpolate": "step-after", "strokeWidth": 1.6},
           "encoding": {"color": {"field": "g", "type": "nominal", "scale": {"domain": ["L", "H"], "range": ["#3232b4", "#e52a2a"]}, "legend": {"title": null, "orient": "top-right", "offset": 3, "symbolType": "stroke", "symbolStrokeWidth": 2, "symbolSize": 144, "symbolDash": [], "symbolOpacity": 1, "labelFontSize": 10.5, "labelExpr": "datum.label=='L'?'Low ABCB1 TPM':'High ABCB1 TPM'", "rowPadding": 0, "padding": 0}}}},
          {"data": {"name": "km"}, "transform": [{"filter": "datum.p=='C' && datum.k!='e'"}], "mark": {"type": "line", "interpolate": "step-after", "strokeWidth": 0.9, "strokeDash": [1.5, 2], "opacity": 0.55},
           "encoding": {"color": {"field": "g", "type": "nominal"}, "detail": {"field": "k"}}},
          {"data": {"name": "cens"}, "transform": [{"filter": "datum.p=='C'"}], "mark": {"type": "point", "shape": "M0,-1L0,1", "filled": false, "size": 40, "strokeWidth": 1, "opacity": 1},
           "encoding": {"color": {"field": "g", "type": "nominal"}}},
          {"data": {"name": "stats"}, "transform": [{"filter": "datum.p=='C'"}], "mark": {"type": "text", "align": "right", "baseline": "middle", "fontSize": 10.5, "color": "#333"},
           "encoding": {"text": {"field": "label"}}}
         ]
        }]
       },
       {
        "title": {"text": "D", "anchor": "start", "frame": "bounds", "fontSize": 17, "offset": -5, "dx": 5},
        "resolve": {"scale": {"color": "independent"}, "legend": {"color": "independent"}},
        "vconcat": [{
         "title": {"text": "无病生存", "fontSize": 17, "anchor": "middle", "offset": 0, "font": "Noto Sans CJK SC"},
         "width": 252, "height": 232,
         "encoding": {
          "x": {"field": "t", "type": "quantitative", "scale": {"domain": [0, 156.8], "nice": false, "zero": false}, "axis": {"values": [0, 50, 100, 150], "labelExpr": "datum.value==50?'80':datum.label", "title": "时间(月)", "titleFont": "Noto Sans CJK SC", "titleFontSize": 18, "labelFontSize": 17, "titlePadding": 4}},
          "y": {"field": "s", "type": "quantitative", "scale": {"domain": [-0.038, 1.037], "nice": false, "zero": false}, "axis": {"values": [0, 0.2, 0.4, 0.6, 0.8, 1], "format": ".1f", "title": "生存率", "titleFont": "Noto Sans CJK SC", "titleFontSize": 19, "labelFontSize": 17, "titlePadding": 5}}
         },
         "layer": [
          {"data": {"name": "km"}, "transform": [{"filter": "datum.p=='D' && datum.k=='e'"}], "mark": {"type": "line", "interpolate": "step-after", "strokeWidth": 1.6},
           "encoding": {"color": {"field": "g", "type": "nominal", "scale": {"domain": ["L", "H"], "range": ["#3232b4", "#e52a2a"]}, "legend": {"title": null, "orient": "top-right", "offset": 3, "symbolType": "stroke", "symbolStrokeWidth": 2, "symbolSize": 144, "symbolDash": [], "symbolOpacity": 1, "labelFontSize": 10.5, "labelExpr": "datum.label=='L'?'Low ABCB1 TPM':'High ABCB1 TPM'", "rowPadding": 0, "padding": 0}}}},
          {"data": {"name": "km"}, "transform": [{"filter": "datum.p=='D' && datum.k!='e'"}], "mark": {"type": "line", "interpolate": "step-after", "strokeWidth": 0.9, "strokeDash": [1.5, 2], "opacity": 0.55},
           "encoding": {"color": {"field": "g", "type": "nominal"}, "detail": {"field": "k"}}},
          {"data": {"name": "cens"}, "transform": [{"filter": "datum.p=='D'"}], "mark": {"type": "point", "shape": "M0,-1L0,1", "filled": false, "size": 40, "strokeWidth": 1, "opacity": 1},
           "encoding": {"color": {"field": "g", "type": "nominal"}}},
          {"data": {"name": "stats"}, "transform": [{"filter": "datum.p=='D'"}], "mark": {"type": "text", "align": "right", "baseline": "middle", "fontSize": 10.5, "color": "#333"},
           "encoding": {"text": {"field": "label"}}}
         ]
        }]
       }
      ]
     },
     {
      "title": {"text": "E", "anchor": "start", "frame": "bounds", "fontSize": 17, "offset": 16, "dx": -19},
      "width": 312, "height": 236,
      "layer": [
       {"data": {"name": "vio"}, "mark": {"type": "area", "orient": "horizontal", "fill": "#dadada", "stroke": "#777", "strokeWidth": 1, "interpolate": "monotone"},
        "encoding": {
         "y": {"field": "y", "type": "quantitative", "scale": {"domain": [-0.184, 8.01], "nice": false, "zero": false}, "axis": {"values": [0, 2, 4, 6, 8], "title": null, "labelFontSize": 16}},
         "x": {"field": "lo", "type": "quantitative", "scale": {"domain": [0.333, 4.667], "nice": false, "zero": false}, "axis": {"values": [1, 2, 3, 4], "title": null, "labelFontSize": 16, "labelExpr": "['','Stage Ⅰ','Stage Ⅱ','Stage Ⅲ','StageⅣ'][datum.value]"}},
         "x2": {"field": "hi"},
         "detail": {"field": "st"}}},
       {"data": {"name": "boxE"}, "mark": {"type": "rule", "color": "#666", "strokeWidth": 1},
        "encoding": {"x": {"field": "st", "type": "quantitative"}, "y": {"field": "mn", "type": "quantitative"}, "y2": {"field": "mx"}}},
       {"data": {"name": "boxE"}, "mark": {"type": "rule", "color": "#000", "strokeWidth": 7},
        "encoding": {"x": {"field": "st", "type": "quantitative"}, "y": {"field": "q1", "type": "quantitative"}, "y2": {"field": "q3"}}},
       {"data": {"name": "boxE"}, "mark": {"type": "point", "filled": true, "color": "#fff", "size": 28, "opacity": 1},
        "encoding": {"x": {"field": "st", "type": "quantitative"}, "y": {"field": "med", "type": "quantitative"}}},
       {"data": {"name": "zeroE"}, "mark": {"type": "rule", "color": "#000", "strokeWidth": 3},
        "encoding": {"x": {"field": "a", "type": "quantitative"}, "x2": {"field": "b"}, "y": {"datum": 0}}},
       {"data": {"name": "annE"}, "mark": {"type": "text", "align": "left", "baseline": "middle", "fontSize": 9, "color": "#333"},
        "encoding": {"x": {"field": "x", "type": "quantitative"}, "y": {"field": "y", "type": "quantitative"}, "text": {"field": "label"}}}
      ]
     }
    ]
   }
  ]
 }
]
}
